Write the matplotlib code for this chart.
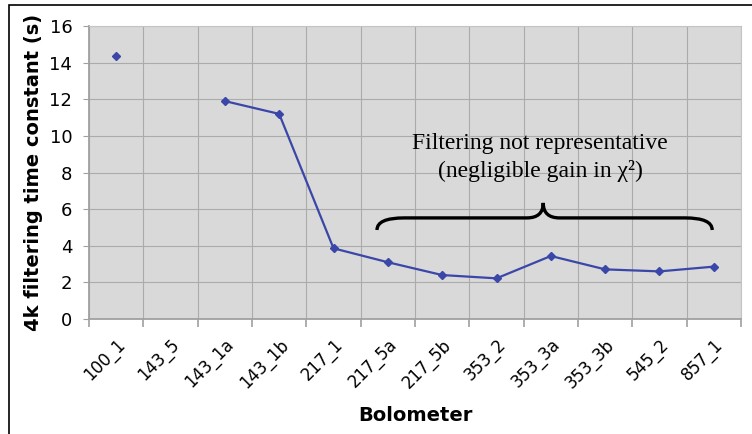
import numpy as np
import matplotlib.pyplot as plt
from matplotlib.path import Path
from matplotlib.patches import PathPatch, Rectangle

bolometers = ["100_1", "143_5", "143_1a", "143_1b", "217_1", "217_5a",
              "217_5b", "353_2", "353_3a", "353_3b", "545_2", "857_1"]
tau = [14.35, np.nan, 11.9, 11.2, 3.86, 3.10, 2.40, 2.22, 3.44, 2.71, 2.60, 2.86]
yticks = [0, 2, 4, 6, 8, 10, 12, 14, 16]

fig = plt.figure(figsize=(7.52, 4.34), dpi=100)
ax = fig.add_axes([89/752, 115/434, 652/752, 293/434])

x = np.arange(len(bolometers))
ax.plot(x, tau, color='#3b47a8', lw=1.6, marker='D', ms=4.5, zorder=3)

ax.set_xlim(-0.5, len(bolometers) - 0.5)
ax.set_ylim(0, 16)
ax.set_facecolor('#d9d9d9')

# grid lines sit between the categories (Excel style)
ax.set_xticks(np.append(x - 0.5, x[-1] + 0.5), minor=True)
ax.set_xticks(x)
ax.set_xticklabels(bolometers, rotation=45, ha='right', rotation_mode='anchor',
                   fontsize=12)
ax.tick_params(axis='x', which='major', length=0, pad=12)
ax.tick_params(axis='x', which='minor', length=6, color='#a0a0a0', width=1.2)
ax.set_yticks(yticks)
ax.tick_params(axis='y', length=4, color='#a0a0a0', labelsize=13, pad=8)
ax.grid(True, which='minor', axis='x', color='#ababab', lw=0.8)
ax.grid(True, which='major', axis='y', color='#ababab', lw=0.8)
ax.set_axisbelow(True)
for s in ['top', 'right']:
    ax.spines[s].set_color('#c4c4c4')
for s in ['left', 'bottom']:
    ax.spines[s].set_color('#a0a0a0')
    ax.spines[s].set_linewidth(1.3)

ax.set_ylabel("4k filtering time constant (s)", fontsize=14, fontweight='bold',
              labelpad=5)
ax.set_xlabel("Bolometer", fontsize=14, fontweight='bold', labelpad=10)

# curly brace over the last bolometers
x0, x1, xm = 4.80, 10.97, 7.86
yb, yh, yt = 4.86, 5.52, 6.34
verts = [(x0, yb), (x0, yh), (x0 + 0.5, yh),
         (xm - 0.3, yh), (xm, yh), (xm, yt),
         (xm, yh), (xm + 0.3, yh),
         (x1 - 0.5, yh), (x1, yh), (x1, yb)]
codes = [Path.MOVETO, Path.CURVE3, Path.CURVE3,
         Path.LINETO, Path.CURVE3, Path.CURVE3,
         Path.CURVE3, Path.CURVE3,
         Path.LINETO, Path.CURVE3, Path.CURVE3]
ax.add_patch(PathPatch(Path(verts, codes), fc='none', ec='black', lw=2.4, zorder=4))

ax.text(7.8, 9.6, "Filtering not representative", ha='center', va='center',
        fontsize=17, family='Liberation Serif')
ax.text(7.8, 8.1, "(negligible gain in χ²)", ha='center', va='center',
        fontsize=17, family='Liberation Serif')

# outer chart frame
fig.patches.append(Rectangle((9/752, -0.1), 1.0, (434 - 5)/434 + 0.1,
                             transform=fig.transFigure, fill=False,
                             ec='black', lw=1.2))

fig.savefig("out.png", dpi=100)
